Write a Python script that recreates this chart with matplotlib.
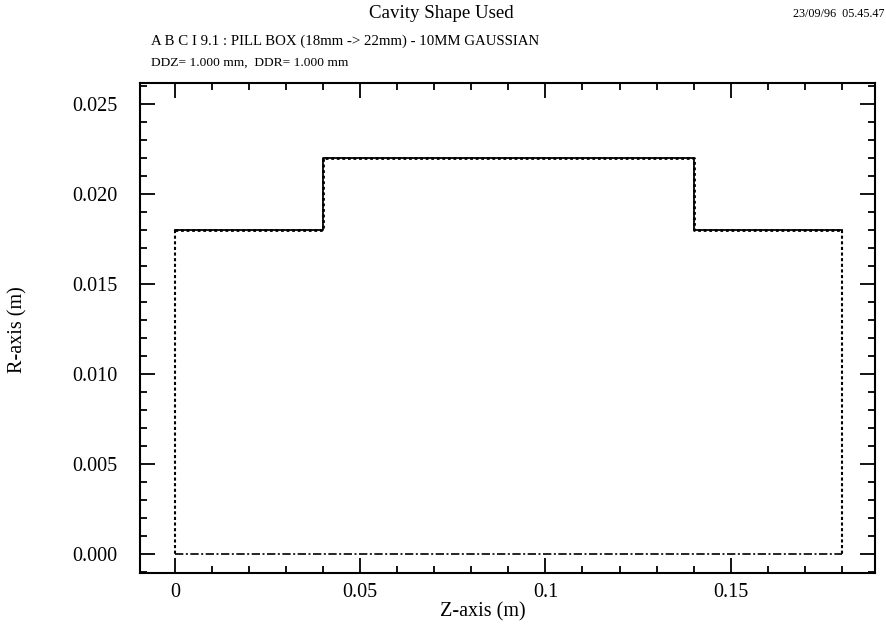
import matplotlib
matplotlib.use('Agg')
import matplotlib.pyplot as plt
from matplotlib.ticker import MultipleLocator, FixedFormatter, FixedLocator

plt.rcParams['font.family'] = ['Liberation Serif', 'DejaVu Serif']

# cavity wall (z, r) in metres
wall_z = [0.0, 0.04, 0.04, 0.14, 0.14, 0.18]
wall_r = [0.018, 0.018, 0.022, 0.022, 0.018, 0.018]
# open ends and the beam axis
left_end_z, left_end_r = [0.0, 0.0], [0.018, 0.0]
right_end_z, right_end_r = [0.18, 0.18], [0.018, 0.0]
axis_z, axis_r = [0.0, 0.18], [0.0, 0.0]

xticks = [0, 0.05, 0.1, 0.15]
xticklabels = ['0', '0.05', '0.1', '0.15']
yticks = [0.0, 0.005, 0.010, 0.015, 0.020, 0.025]
yticklabels = ['0.000', '0.005', '0.010', '0.015', '0.020', '0.025']

fig = plt.figure(figsize=(8.86, 6.3), dpi=100)
ax = fig.add_axes([0.158, 0.0905, 0.8296, 0.7775])

ax.plot(wall_z, wall_r, color='black', lw=1.3)
ax.plot(wall_z, wall_r, color='black', lw=2.0, ls=(0, (1, 1)))
ax.plot(left_end_z, left_end_r, color='black', lw=1.5, ls=(0, (1.5, 1.2)))
ax.plot(right_end_z, right_end_r, color='black', lw=1.5, ls=(0, (1.5, 1.2)))
ax.plot(axis_z, axis_r, color='black', lw=1.2, ls=(0, (5, 1.5, 1.2, 1.5)))

ax.set_xlim(-0.0095, 0.189)
ax.set_ylim(-0.00105, 0.02618)

ax.xaxis.set_major_locator(FixedLocator(xticks))
ax.xaxis.set_major_formatter(FixedFormatter(xticklabels))
ax.xaxis.set_minor_locator(MultipleLocator(0.01))
ax.yaxis.set_major_locator(FixedLocator(yticks))
ax.yaxis.set_major_formatter(FixedFormatter(yticklabels))
ax.yaxis.set_minor_locator(MultipleLocator(0.001))

ax.tick_params(which='both', direction='in', top=True, right=True, width=1.3, labelsize=14.5)
ax.tick_params(which='major', length=11)
ax.tick_params(axis='x', which='major', pad=7)
ax.tick_params(axis='y', which='major', pad=16)
ax.tick_params(which='minor', length=5)
for s in ax.spines.values():
    s.set_linewidth(1.5)

# axis labels placed by hand (the Z label sits left of centre)
fig.text(0.545, 0.029, 'Z-axis (m)', ha='center', va='center', fontsize=14.5)
fig.text(0.020, 0.476, 'R-axis (m)', ha='center', va='center', fontsize=14.5, rotation=90)

fig.text(0.498, 0.979, 'Cavity Shape Used', ha='center', va='center', fontsize=13.6)
fig.text(0.998, 0.977, '23/09/96  05.45.47', ha='right', va='center', fontsize=8.7)
fig.text(0.170, 0.935, 'A B C I 9.1 : PILL BOX (18mm -> 22mm) - 10MM GAUSSIAN',
         ha='left', va='center', fontsize=10.7)
fig.text(0.170, 0.900, 'DDZ= 1.000 mm,  DDR= 1.000 mm', ha='left', va='center', fontsize=9.7)

fig.savefig('out.png', dpi=100)
